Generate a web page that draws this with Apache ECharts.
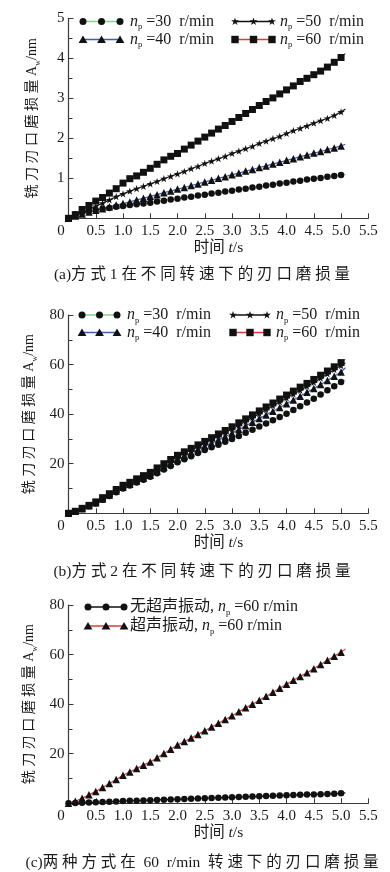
<!DOCTYPE html>
<html><head><meta charset="utf-8">
<script src="https://cdn.jsdelivr.net/npm/echarts@6/dist/echarts.min.js"></script>
<style>html,body{margin:0;padding:0;background:#fff}#c{width:390px;height:872px}</style>
</head><body><div id="c"></div>
<script>
// ---------- data ----------
const timeS = [0,0.125,0.25,0.375,0.5,0.625,0.75,0.875,1.0,1.125,1.25,1.375,1.5,1.625,1.75,1.875,2.0,2.125,2.25,2.375,2.5,2.625,2.75,2.875,3.0,3.125,3.25,3.375,3.5,3.625,3.75,3.875,4.0,4.125,4.25,4.375,4.5,4.625,4.75,4.875,5.0];
const lineEndT = 5.08;
const xTickLabels = ['0','0.5','1.0','1.5','2.0','2.5','3.0','3.5','4.0','4.5','5.0','5.5'];
const yTickLabelsA = ['','1','2','3','4','5'];
const yTickLabelsBC = ['','20','40','60','80'];

// (a) mode 1
const a30 = [0,0.10,0.15,0.18,0.21,0.24,0.26,0.29,0.31,0.33,0.35,0.37,0.39,0.42,0.44,0.47,0.49,0.52,0.54,0.57,0.59,0.62,0.64,0.67,0.69,0.72,0.74,0.77,0.79,0.82,0.84,0.87,0.89,0.92,0.94,0.97,0.99,1.01,1.04,1.06,1.08];
const a40 = [0,0.06,0.11,0.16,0.20,0.24,0.29,0.33,0.37,0.41,0.46,0.50,0.55,0.59,0.64,0.68,0.73,0.77,0.82,0.86,0.91,0.95,1.00,1.04,1.09,1.13,1.18,1.22,1.27,1.31,1.36,1.40,1.45,1.49,1.54,1.58,1.63,1.67,1.72,1.76,1.81];
const a50 = [0,0.07,0.15,0.22,0.30,0.38,0.46,0.54,0.61,0.68,0.74,0.80,0.86,0.92,0.99,1.05,1.11,1.17,1.24,1.30,1.37,1.43,1.49,1.55,1.62,1.68,1.74,1.80,1.87,1.93,1.99,2.05,2.12,2.19,2.25,2.31,2.38,2.44,2.50,2.57,2.66];
const a60 = [0,0.09,0.22,0.32,0.43,0.52,0.63,0.74,0.88,0.99,1.06,1.15,1.25,1.35,1.46,1.55,1.62,1.73,1.83,1.93,2.03,2.13,2.23,2.32,2.42,2.52,2.62,2.72,2.82,2.92,3.01,3.11,3.21,3.31,3.42,3.50,3.59,3.68,3.78,3.90,4.02];
const aEnd = {a30:1.10, a40:1.85, a50:2.73, a60:4.12};

// (b) mode 2
const b30 = [0,0.7,1.7,2.8,4.0,5.5,7.0,8.5,10.0,11.2,12.4,13.5,14.7,16.2,17.7,19.1,20.6,21.8,23.0,24.3,25.5,26.6,27.7,28.9,30.0,31.2,32.5,33.7,35.0,36.2,37.5,38.8,40.2,41.7,43.2,44.7,46.2,47.9,49.6,51.3,53.0];
const b40 = [0,0.8,1.8,3.0,4.3,5.8,7.4,9.0,10.5,11.7,13.0,14.2,15.4,17.0,18.6,20.2,21.8,23.1,24.4,25.7,27.0,28.3,29.6,31.0,32.3,33.8,35.3,36.7,38.2,39.7,41.2,42.7,44.2,45.7,47.2,48.8,50.3,52.0,53.6,55.3,57.0];
const b50 = [0,0.8,1.9,3.1,4.5,6.1,7.7,9.4,11.0,12.3,13.6,14.8,16.1,17.8,19.5,21.1,22.8,24.2,25.5,26.9,28.3,29.7,31.1,32.6,34.0,35.5,37.1,38.6,40.2,41.8,43.4,44.9,46.5,48.1,49.6,51.2,52.8,54.5,56.2,57.9,59.6];
const b60 = [0,0.8,2.0,3.2,4.6,6.3,7.9,9.6,11.3,12.5,13.9,15.2,16.5,18.3,20.0,21.7,23.4,24.8,26.2,27.6,29.0,30.5,32.0,33.4,34.9,36.5,38.1,39.7,41.3,42.9,44.5,46.1,47.7,49.3,50.9,52.4,54.0,55.7,57.4,59.1,60.8];
const bEnd = {b30:53.7, b40:58.7, b50:60.7, b60:62.1};

// (c) both modes at 60 r/min
const cNoUltrasonic = [0,0.09,0.22,0.32,0.43,0.52,0.63,0.74,0.88,0.99,1.06,1.15,1.25,1.35,1.46,1.55,1.62,1.73,1.83,1.93,2.03,2.13,2.23,2.32,2.42,2.52,2.62,2.72,2.82,2.92,3.01,3.11,3.21,3.31,3.42,3.50,3.59,3.68,3.78,3.90,4.02];
const cUltrasonic = [0,0.8,2.0,3.4,4.8,6.4,8.0,9.6,11.3,12.6,14.0,15.4,16.7,18.4,20.1,21.8,23.5,24.9,26.3,27.8,29.3,30.8,32.3,33.8,35.3,36.9,38.5,40.0,41.6,43.2,44.8,46.4,48.0,49.6,51.2,52.7,54.3,56.0,57.7,59.3,60.9];
const cEnd = {none:4.2, ultra:62.3};

// ---------- styling ----------
const FONT = "'Liberation Serif','Noto Sans CJK SC',serif";
const TXT = '#1a1a1a';
const STAR = 'path://M50,2 L61,36 L97,36 L68,57 L79,92 L50,70 L21,92 L32,57 L3,36 L39,36 Z';
const colGreen = '#86d08a', colBlue = '#3c5fb4', colBlack = '#111111', colRed = '#e2383a';

function pairs(vals, endY) {
  const d = timeS.map((t, i) => [t, vals[i]]);
  d.push({value: [lineEndT, endY], symbol: 'none'});
  return d;
}
function mkSeries(idx, vals, endY, color, symbol, size) {
  return {
    type: 'line', xAxisIndex: idx, yAxisIndex: idx,
    data: pairs(vals, endY),
    symbol: symbol, symbolSize: size, symbolKeepAspect: true, showAllSymbol: true,
    lineStyle: {color: color, width: 1.2},
    itemStyle: {color: '#111', borderWidth: 0},
    emphasis: {disabled: true}
  };
}

const grids = [
  {left: 68.5, top: 18.3, width: 299.8, height: 200},
  {left: 68.5, top: 315, width: 299.8, height: 198.3},
  {left: 68.5, top: 605, width: 299.8, height: 198.3}
];

function xAxisCfg(i) {
  return {
    type: 'value', gridIndex: i, min: 0, max: 5.5, interval: 0.5,
    axisLine: {show: true, lineStyle: {color: '#3a3a3a', width: 1.2}},
    axisTick: {show: true, inside: true, length: 5, lineStyle: {color: '#3a3a3a'}},
    axisLabel: {
      margin: 5, fontSize: 15, fontFamily: FONT, color: TXT,
      formatter: v => { const k = Math.round(v / 0.5); return k === 0 ? '{z|0}' : xTickLabels[k]; },
      rich: {z: {fontSize: 15, fontFamily: FONT, color: TXT, padding: [0, 15, 0, 0]}}
    },
    splitLine: {show: false},
    name: '时间 {i|t}/s', nameLocation: 'middle', nameGap: 21,
    nameTextStyle: {fontSize: 15.5, fontFamily: FONT, color: TXT, lineHeight: 18,
      rich: {i: {fontStyle: 'italic', fontSize: 15.5, fontFamily: FONT, color: TXT}}}
  };
}
function yAxisCfg(i, max, interval, labels) {
  return {
    type: 'value', gridIndex: i, min: 0, max: max, interval: interval,
    axisLine: {show: true, lineStyle: {color: '#3a3a3a', width: 1.2}},
    axisTick: {show: true, inside: true, length: 5, lineStyle: {color: '#3a3a3a'}},
    minorTick: {show: true, splitNumber: 2, length: 4, lineStyle: {color: '#3a3a3a'}},
    axisLabel: {margin: 4, fontSize: 15, fontFamily: FONT, color: TXT,
      formatter: v => labels[Math.round(v / interval)]},
    splitLine: {show: false},
    name: '铣 刀 刃 口 磨 损 量 A{s|w}/nm', nameLocation: 'middle', nameGap: 27,
    nameTextStyle: {fontSize: 14, fontFamily: FONT, color: TXT, lineHeight: 18,
      rich: {s: {fontSize: 8, fontFamily: FONT, color: TXT, lineHeight: 18, verticalAlign: 'bottom'}}}
  };
}

// ---------- legend graphics ----------
function marker(shape, cx, cy) {
  const fill = '#111';
  if (shape === 'circle') return {type: 'circle', shape: {cx: cx, cy: cy, r: 3.5}, style: {fill}};
  if (shape === 'rect') return {type: 'rect', shape: {x: cx - 3.7, y: cy - 3.7, width: 7.4, height: 7.4}, style: {fill}};
  if (shape === 'triangle') return {type: 'polygon', shape: {points: [[cx, cy - 4], [cx + 4.4, cy + 3.6], [cx - 4.4, cy + 3.6]]}, style: {fill}};
  const tpl = [[50,2],[61,36],[97,36],[68,57],[79,92],[50,70],[21,92],[32,57],[3,36],[39,36]];
  return {type: 'polygon', shape: {points: tpl.map(p => [cx + (p[0] - 50) * 0.085, cy + (p[1] - 50) * 0.085])}, style: {fill}};
}
const legRich = {
  i: {fontStyle: 'italic', fontSize: 16, fontFamily: FONT, fill: TXT, lineHeight: 20},
  s: {fontSize: 8.5, fontFamily: FONT, fill: TXT, lineHeight: 18, verticalAlign: 'bottom'}
};
function legendItem(x1, x2, y, color, shape, tx, text) {
  return [
    {type: 'line', shape: {x1: x1, y1: y, x2: x2, y2: y}, style: {stroke: color, lineWidth: 1.4}},
    marker(shape, x1, y), marker(shape, (x1 + x2) / 2, y), marker(shape, x2, y),
    {type: 'text', x: tx, y: y, style: {text: text, rich: legRich, fontSize: 16, fontFamily: FONT, fill: TXT, lineHeight: 20, verticalAlign: 'middle'}}
  ];
}
function caption(y, text) {
  return {type: 'text', x: 202, y: y, style: {text: text, fontSize: 15.5, fontFamily: FONT, fill: TXT, align: 'center', verticalAlign: 'middle'}};
}

const gEls = [].concat(
  legendItem(83, 120, 21.5, colGreen, 'circle', 130, '{i|n}{s|p} =30  r/min'),
  legendItem(83, 120, 39.5, colBlue, 'triangle', 130, '{i|n}{s|p} =40  r/min'),
  legendItem(235, 272, 21.5, colBlack, 'star', 280, '{i|n}{s|p} =50  r/min'),
  legendItem(235, 272, 39.5, colRed, 'rect', 280, '{i|n}{s|p} =60  r/min'),
  legendItem(82, 117, 315, colGreen, 'circle', 127, '{i|n}{s|p} =30  r/min'),
  legendItem(82, 117, 332.5, colBlue, 'triangle', 127, '{i|n}{s|p} =40  r/min'),
  legendItem(233, 267, 315, colBlack, 'star', 276, '{i|n}{s|p} =50  r/min'),
  legendItem(233, 267, 332.5, colRed, 'rect', 276, '{i|n}{s|p} =60  r/min'),
  legendItem(88, 124, 607, colBlack, 'circle', 130, '无超声振动, {i|n}{s|p} =60 r/min'),
  legendItem(88, 124, 626, colRed, 'triangle', 130, '超声振动, {i|n}{s|p} =60 r/min'),
  [caption(275, '(a)方 式 1 在 不 同 转 速 下 的 刃 口 磨 损 量'),
   caption(572, '(b)方 式 2 在 不 同 转 速 下 的 刃 口 磨 损 量'),
   caption(863, '(c)两 种 方 式 在  60  r/min  转 速 下 的 刃 口 磨 损 量')]
);

const chart = echarts.init(document.getElementById('c'), null, {renderer: 'canvas'});
chart.setOption({
  animation: false,
  backgroundColor: '#fff',
  grid: grids,
  xAxis: [xAxisCfg(0), xAxisCfg(1), xAxisCfg(2)],
  yAxis: [yAxisCfg(0, 5, 1, yTickLabelsA), yAxisCfg(1, 80, 20, yTickLabelsBC), yAxisCfg(2, 80, 20, yTickLabelsBC)],
  series: [
    mkSeries(0, a30, aEnd.a30, colGreen, 'circle', 6.5),
    mkSeries(0, a40, aEnd.a40, colBlue, 'triangle', 7.5),
    mkSeries(0, a50, aEnd.a50, colBlack, STAR, 7.5),
    mkSeries(0, a60, aEnd.a60, colRed, 'rect', 7),
    mkSeries(1, b30, bEnd.b30, colGreen, 'circle', 6.5),
    mkSeries(1, b40, bEnd.b40, colBlue, 'triangle', 7.5),
    mkSeries(1, b50, bEnd.b50, colBlack, STAR, 7.5),
    mkSeries(1, b60, bEnd.b60, colRed, 'rect', 7),
    mkSeries(2, cNoUltrasonic, cEnd.none, colBlack, 'circle', 6.5),
    mkSeries(2, cUltrasonic, cEnd.ultra, colRed, 'triangle', 7.5)
  ],
  graphic: {elements: gEls}
});
</script></body></html>
